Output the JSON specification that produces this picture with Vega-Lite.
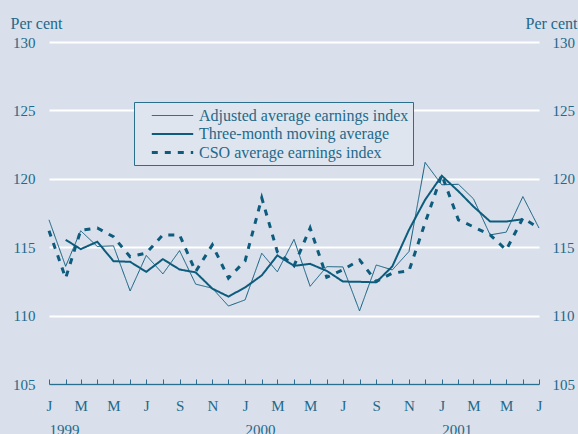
{
  "$schema": "https://vega.github.io/schema/vega-lite/v6.json",
  "width": 490,
  "height": 342,
  "autosize": {"type": "none"},
  "padding": {"left": 49, "top": 42, "right": 39, "bottom": 50},
  "background": "#d9e0eb",
  "config": {
    "view": {"stroke": null},
    "font": "Liberation Serif",
    "axis": {"labelFont": "Liberation Serif", "titleFont": "Liberation Serif", "labelColor": "#22698a", "titleColor": "#22698a", "labelFontSize": 15, "titleFontSize": 16, "titleFontWeight": "normal"}
  },
  "data": {"values": [
    {"date": "1999-01-01", "series": "Adjusted average earnings index", "value": 117.0},
    {"date": "1999-02-01", "series": "Adjusted average earnings index", "value": 113.6},
    {"date": "1999-03-01", "series": "Adjusted average earnings index", "value": 116.2},
    {"date": "1999-04-01", "series": "Adjusted average earnings index", "value": 115.05},
    {"date": "1999-05-01", "series": "Adjusted average earnings index", "value": 115.1},
    {"date": "1999-06-01", "series": "Adjusted average earnings index", "value": 111.8},
    {"date": "1999-07-01", "series": "Adjusted average earnings index", "value": 114.4},
    {"date": "1999-08-01", "series": "Adjusted average earnings index", "value": 113.05},
    {"date": "1999-09-01", "series": "Adjusted average earnings index", "value": 114.75},
    {"date": "1999-10-01", "series": "Adjusted average earnings index", "value": 112.3},
    {"date": "1999-11-01", "series": "Adjusted average earnings index", "value": 112.0},
    {"date": "1999-12-01", "series": "Adjusted average earnings index", "value": 110.7},
    {"date": "2000-01-01", "series": "Adjusted average earnings index", "value": 111.15},
    {"date": "2000-02-01", "series": "Adjusted average earnings index", "value": 114.56},
    {"date": "2000-03-01", "series": "Adjusted average earnings index", "value": 113.2},
    {"date": "2000-04-01", "series": "Adjusted average earnings index", "value": 115.57},
    {"date": "2000-05-01", "series": "Adjusted average earnings index", "value": 112.14},
    {"date": "2000-06-01", "series": "Adjusted average earnings index", "value": 113.58},
    {"date": "2000-07-01", "series": "Adjusted average earnings index", "value": 113.56},
    {"date": "2000-08-01", "series": "Adjusted average earnings index", "value": 110.34},
    {"date": "2000-09-01", "series": "Adjusted average earnings index", "value": 113.7},
    {"date": "2000-10-01", "series": "Adjusted average earnings index", "value": 113.34},
    {"date": "2000-11-01", "series": "Adjusted average earnings index", "value": 114.68},
    {"date": "2000-12-01", "series": "Adjusted average earnings index", "value": 121.2},
    {"date": "2001-01-01", "series": "Adjusted average earnings index", "value": 119.56},
    {"date": "2001-02-01", "series": "Adjusted average earnings index", "value": 119.6},
    {"date": "2001-03-01", "series": "Adjusted average earnings index", "value": 118.54},
    {"date": "2001-04-01", "series": "Adjusted average earnings index", "value": 115.9},
    {"date": "2001-05-01", "series": "Adjusted average earnings index", "value": 116.1},
    {"date": "2001-06-01", "series": "Adjusted average earnings index", "value": 118.7},
    {"date": "2001-07-01", "series": "Adjusted average earnings index", "value": 116.4},
    {"date": "1999-02-01", "series": "Three-month moving average", "value": 115.54},
    {"date": "1999-03-01", "series": "Three-month moving average", "value": 114.86},
    {"date": "1999-04-01", "series": "Three-month moving average", "value": 115.4},
    {"date": "1999-05-01", "series": "Three-month moving average", "value": 113.98},
    {"date": "1999-06-01", "series": "Three-month moving average", "value": 113.93},
    {"date": "1999-07-01", "series": "Three-month moving average", "value": 113.2},
    {"date": "1999-08-01", "series": "Three-month moving average", "value": 114.13},
    {"date": "1999-09-01", "series": "Three-month moving average", "value": 113.37},
    {"date": "1999-10-01", "series": "Three-month moving average", "value": 113.16},
    {"date": "1999-11-01", "series": "Three-month moving average", "value": 111.97},
    {"date": "1999-12-01", "series": "Three-month moving average", "value": 111.39},
    {"date": "2000-01-01", "series": "Three-month moving average", "value": 112.06},
    {"date": "2000-02-01", "series": "Three-month moving average", "value": 112.94},
    {"date": "2000-03-01", "series": "Three-month moving average", "value": 114.4},
    {"date": "2000-04-01", "series": "Three-month moving average", "value": 113.64},
    {"date": "2000-05-01", "series": "Three-month moving average", "value": 113.78},
    {"date": "2000-06-01", "series": "Three-month moving average", "value": 113.27},
    {"date": "2000-07-01", "series": "Three-month moving average", "value": 112.49},
    {"date": "2000-08-01", "series": "Three-month moving average", "value": 112.47},
    {"date": "2000-09-01", "series": "Three-month moving average", "value": 112.43},
    {"date": "2000-10-01", "series": "Three-month moving average", "value": 113.6},
    {"date": "2000-11-01", "series": "Three-month moving average", "value": 116.27},
    {"date": "2000-12-01", "series": "Three-month moving average", "value": 118.46},
    {"date": "2001-01-01", "series": "Three-month moving average", "value": 120.22},
    {"date": "2001-02-01", "series": "Three-month moving average", "value": 119.09},
    {"date": "2001-03-01", "series": "Three-month moving average", "value": 117.97},
    {"date": "2001-04-01", "series": "Three-month moving average", "value": 116.88},
    {"date": "2001-05-01", "series": "Three-month moving average", "value": 116.88},
    {"date": "2001-06-01", "series": "Three-month moving average", "value": 117.04},
    {"date": "1999-01-01", "series": "CSO average earnings index", "value": 116.2},
    {"date": "1999-02-01", "series": "CSO average earnings index", "value": 112.74},
    {"date": "1999-03-01", "series": "CSO average earnings index", "value": 116.23},
    {"date": "1999-04-01", "series": "CSO average earnings index", "value": 116.4},
    {"date": "1999-05-01", "series": "CSO average earnings index", "value": 115.76},
    {"date": "1999-06-01", "series": "CSO average earnings index", "value": 114.3},
    {"date": "1999-07-01", "series": "CSO average earnings index", "value": 114.57},
    {"date": "1999-08-01", "series": "CSO average earnings index", "value": 115.9},
    {"date": "1999-09-01", "series": "CSO average earnings index", "value": 115.9},
    {"date": "1999-10-01", "series": "CSO average earnings index", "value": 113.22},
    {"date": "1999-11-01", "series": "CSO average earnings index", "value": 115.17},
    {"date": "1999-12-01", "series": "CSO average earnings index", "value": 112.74},
    {"date": "2000-01-01", "series": "CSO average earnings index", "value": 114.0},
    {"date": "2000-02-01", "series": "CSO average earnings index", "value": 118.6},
    {"date": "2000-03-01", "series": "CSO average earnings index", "value": 114.66},
    {"date": "2000-04-01", "series": "CSO average earnings index", "value": 113.64},
    {"date": "2000-05-01", "series": "CSO average earnings index", "value": 116.4},
    {"date": "2000-06-01", "series": "CSO average earnings index", "value": 112.8},
    {"date": "2000-07-01", "series": "CSO average earnings index", "value": 113.34},
    {"date": "2000-08-01", "series": "CSO average earnings index", "value": 114.07},
    {"date": "2000-09-01", "series": "CSO average earnings index", "value": 112.5},
    {"date": "2000-10-01", "series": "CSO average earnings index", "value": 113.1},
    {"date": "2000-11-01", "series": "CSO average earnings index", "value": 113.27},
    {"date": "2000-12-01", "series": "CSO average earnings index", "value": 116.78},
    {"date": "2001-01-01", "series": "CSO average earnings index", "value": 120.29},
    {"date": "2001-02-01", "series": "CSO average earnings index", "value": 117.0},
    {"date": "2001-03-01", "series": "CSO average earnings index", "value": 116.49},
    {"date": "2001-04-01", "series": "CSO average earnings index", "value": 115.9},
    {"date": "2001-05-01", "series": "CSO average earnings index", "value": 114.8},
    {"date": "2001-06-01", "series": "CSO average earnings index", "value": 117.13},
    {"date": "2001-07-01", "series": "CSO average earnings index", "value": 116.4}
  ]},
  "resolve": {"axis": {"x": "independent", "y": "independent"}},
  "layer": [
    {
      "mark": {"type": "line", "color": "#0d5c7d", "strokeCap": "butt"},
      "encoding": {
        "x": {
          "field": "date", "type": "temporal",
          "scale": {"type": "utc", "domain": [{"year": 1999, "month": 1, "date": 1, "utc": true}, {"year": 2001, "month": 7, "date": 1, "utc": true}]},
          "axis": {
            "title": null, "orient": "bottom", "grid": false, "zindex": 1,
            "tickCount": {"interval": "month", "step": 1},
            "labelExpr": "utcmonth(datum.value) % 2 == 0 ? slice(utcFormat(datum.value, '%b'), 0, 1) : ''",
            "labelAlign": "center", "labelBaseline": "top", "labelFlush": false, "labelOverlap": false,
            "domainColor": "#2a6f8e", "domainWidth": 1.5,
            "tickColor": "#2a6f8e", "tickWidth": 1, "tickSize": -5,
            "labelPadding": 19
          }
        },
        "y": {
          "field": "value", "type": "quantitative",
          "scale": {"domain": [105, 130], "nice": false, "zero": false},
          "axis": {
            "orient": "left", "values": [105, 110, 115, 120, 125, 130],
            "title": "Per cent", "titleAngle": 0, "titleAlign": "left", "titleBaseline": "alphabetic",
            "titleX": -39, "titleY": -14,
            "grid": true, "gridColor": "#ffffff", "gridWidth": 2, "gridOpacity": 1,
            "domain": false, "ticks": false, "labelPadding": 14, "zindex": 0
          }
        },
        "strokeDash": {
          "field": "series", "type": "nominal",
          "scale": {"domain": ["Adjusted average earnings index", "Three-month moving average", "CSO average earnings index"], "range": [[1, 0], [1, 0], [6, 7]]},
          "legend": {
            "title": null, "orient": "none", "legendX": 85, "legendY": 60, "direction": "vertical",
            "fillColor": "#dfe5ee", "strokeColor": "#2b6f8e", "padding": 4,
            "symbolType": "M-2.3,0H2.3", "symbolSize": 324, "symbolOffset": 24, "symbolStrokeColor": "#0d5c7d",
            "labelFont": "Liberation Serif", "labelFontSize": 16, "labelColor": "#22698a", "labelOffset": 16, "rowPadding": 0, "labelLimit": 300
          }
        },
        "strokeWidth": {
          "field": "series", "type": "nominal",
          "scale": {"domain": ["Adjusted average earnings index", "Three-month moving average", "CSO average earnings index"], "range": [1, 3, 3.5]},
          "legend": {
            "title": null, "orient": "none", "legendX": 85, "legendY": 60, "direction": "vertical",
            "fillColor": "#dfe5ee", "strokeColor": "#2b6f8e", "padding": 4,
            "symbolType": "M-2.3,0H2.3", "symbolSize": 324, "symbolOffset": 24, "symbolStrokeColor": "#0d5c7d",
            "labelFont": "Liberation Serif", "labelFontSize": 16, "labelColor": "#22698a", "labelOffset": 16, "rowPadding": 0, "labelLimit": 300
          }
        }
      }
    },
    {
      "mark": {"type": "line", "opacity": 0},
      "encoding": {
        "x": {
          "field": "date", "type": "temporal",
          "axis": {
            "title": null, "orient": "bottom", "grid": false, "domain": false, "ticks": false,
            "tickCount": {"interval": "year", "step": 1},
            "labelExpr": "utcmonth(datum.value) == 0 ? utcFormat(datum.value, '%Y') : ''",
            "labelAlign": "left", "labelDx": -3, "labelBaseline": "top", "labelFlush": false, "labelOverlap": false,
            "labelPadding": 38
          }
        },
        "y": {
          "field": "value", "type": "quantitative",
          "axis": {
            "orient": "right", "values": [105, 110, 115, 120, 125, 130],
            "title": "Per cent", "titleAngle": 0, "titleAlign": "right", "titleBaseline": "alphabetic",
            "titleX": 38, "titleY": -14,
            "grid": false, "domain": false, "ticks": false, "labelPadding": 13
          }
        },
        "detail": {"field": "series", "type": "nominal"}
      }
    }
  ]
}
